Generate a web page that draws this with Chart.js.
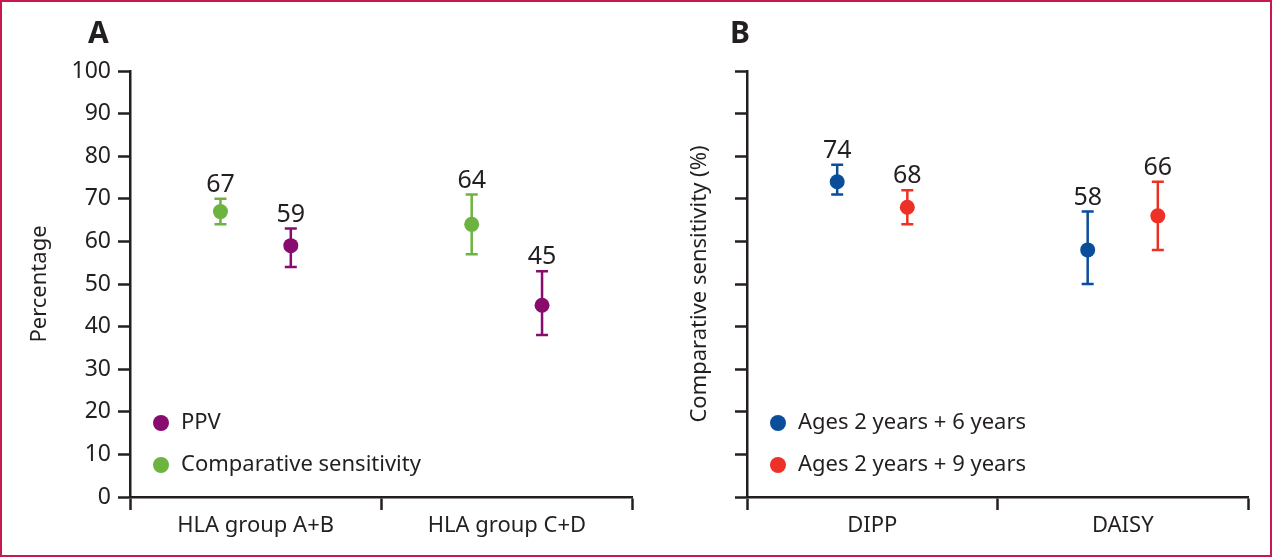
<!DOCTYPE html>
<html>
<head>
<meta charset="utf-8">
<script src="https://cdn.jsdelivr.net/npm/chart.js@4.4.1/dist/chart.umd.min.js"></script>
<style>
  body { margin: 0; background: #fff; }
  #wrap { position: relative; width: 1272px; height: 558px; font-family: "Noto Sans", sans-serif; color: #231f20; }
  #wrap canvas { position: absolute; top: 0; }
  #chartA { left: 0; }
  #chartB { left: 640px; }
  .panel { position: absolute; top: 17px; font-weight: bold; font-size: 30px; line-height: 30px; }
  #frame { position: absolute; left: 0; top: 0; width: 1272px; height: 557px; box-sizing: border-box; border: 2px solid #c8194f; pointer-events: none; }
</style>
</head>
<body>
<div id="wrap">
  <canvas id="chartA" width="640" height="558"></canvas>
  <canvas id="chartB" width="632" height="558"></canvas>
  <div class="panel" style="left:88px">A</div>
  <div class="panel" style="left:730px">B</div>
  <div id="frame"></div>
</div>
<script>
const INK = '#231f20';
const FONT = '"Noto Sans", sans-serif';

// panel A: HLA groups
const groupsA = ['HLA group A+B', 'HLA group C+D'];
const ppv = [59, 45];
const ppvLow = [54, 38];
const ppvHigh = [63, 53];
const sensA = [67, 64];
const sensALow = [64, 57];
const sensAHigh = [70, 71];

// panel B: cohorts
const cohortsB = ['DIPP', 'DAISY'];
const age6 = [74, 58];
const age6Low = [71, 50];
const age6High = [78, 67];
const age9 = [68, 66];
const age9Low = [64, 58];
const age9High = [72, 74];

const yMax = 100;
const yStep = 10;
// category boundaries and centres on the linear x axis
const xTickValues = [-0.5, 0, 0.5, 1, 1.5];
const shift = 0.14; // side-by-side offset of the two series inside a category

// error bars + value labels, drawn from the dataset arrays through the scales
const errorBars = {
  id: 'errorBars',
  beforeDatasetsDraw(chart) {
    const ctx = chart.ctx;
    const y = chart.scales.y;
    chart.data.datasets.forEach((ds, di) => {
      chart.getDatasetMeta(di).data.forEach((pt, i) => {
        const top = y.getPixelForValue(ds.high[i]);
        const bot = y.getPixelForValue(ds.low[i]);
        ctx.save();
        ctx.strokeStyle = ds.backgroundColor;
        ctx.lineWidth = 2.5;
        ctx.beginPath();
        ctx.moveTo(pt.x, top); ctx.lineTo(pt.x, bot);
        ctx.moveTo(pt.x - 6, top); ctx.lineTo(pt.x + 6, top);
        ctx.moveTo(pt.x - 6, bot); ctx.lineTo(pt.x + 6, bot);
        ctx.stroke();
        ctx.restore();
      });
    });
  },
  afterDatasetsDraw(chart) {
    const ctx = chart.ctx;
    const y = chart.scales.y;
    ctx.save();
    ctx.fillStyle = INK;
    ctx.font = '25px ' + FONT;
    ctx.textAlign = 'center';
    ctx.textBaseline = 'alphabetic';
    chart.data.datasets.forEach((ds, di) => {
      chart.getDatasetMeta(di).data.forEach((pt, i) => {
        ctx.fillText(String(ds.data[i].y), pt.x, y.getPixelForValue(ds.high[i]) - 7);
      });
    });
    ctx.restore();
  }
};

// legend inside the plot, bottom left
const innerLegend = {
  id: 'innerLegend',
  afterDraw(chart) {
    const ctx = chart.ctx;
    const area = chart.chartArea;
    ctx.save();
    ctx.font = '22px ' + FONT;
    ctx.textBaseline = 'middle';
    chart.data.datasets.forEach((ds, i) => {
      const cx = area.left + 31;
      const cy = area.bottom - 74 + i * 42;
      ctx.fillStyle = ds.backgroundColor;
      ctx.beginPath();
      ctx.arc(cx, cy, 8, 0, Math.PI * 2);
      ctx.fill();
      ctx.fillStyle = INK;
      ctx.fillText(ds.label, cx + 20, cy);
    });
    ctx.restore();
  }
};

function series(label, color, values, low, high, dx) {
  return {
    label: label,
    data: values.map((v, i) => ({ x: i + dx, y: v })),
    low: low,
    high: high,
    backgroundColor: color,
    borderWidth: 0,
    pointRadius: 7.5,
    pointHoverRadius: 7.5
  };
}

function makeChart(id, cats, datasets, yTitle, showYLabels, yWidth, titlePad, padRight) {
  return new Chart(document.getElementById(id), {
    type: 'scatter',
    data: { datasets: datasets },
    plugins: [errorBars, innerLegend],
    options: {
      responsive: false,
      animation: false,
      layout: { padding: { left: 0, top: 71, right: padRight, bottom: 0 } },
      plugins: { legend: { display: false }, tooltip: { enabled: false } },
      scales: {
        x: {
          type: 'linear',
          min: -0.5,
          max: 1.5,
          afterBuildTicks: s => { s.ticks = xTickValues.map(v => ({ value: v })); },
          afterFit: s => { s.height = 61; },
          ticks: {
            autoSkip: false, maxRotation: 0, minRotation: 0,
            color: INK, font: { family: FONT, size: 22 }, padding: 3,
            callback: v => Number.isInteger(v) ? cats[v] : ''
          },
          grid: {
            drawOnChartArea: false, tickLength: 13, tickWidth: 2.5,
            tickColor: c => (c.tick && Number.isInteger(c.tick.value)) ? 'rgba(0,0,0,0)' : INK
          },
          border: { color: INK, width: 2.5 }
        },
        y: {
          min: 0,
          max: yMax,
          afterFit: s => { s.width = yWidth; },
          ticks: {
            stepSize: yStep, color: INK, font: { family: FONT, size: 23 }, padding: 7,
            callback: v => showYLabels ? v : ''
          },
          grid: { drawOnChartArea: false, tickLength: 12, tickWidth: 2.5, tickColor: INK },
          border: { color: INK, width: 2.5 },
          title: {
            display: true, text: yTitle, color: INK,
            font: { family: FONT, size: 22 },
            padding: { top: titlePad, bottom: 0 }
          }
        }
      }
    }
  });
}

makeChart('chartA', groupsA, [
  series('PPV', '#870c6d', ppv, ppvLow, ppvHigh, shift),
  series('Comparative sensitivity', '#6cb33f', sensA, sensALow, sensAHigh, -shift)
], 'Percentage', true, 130, 27, 3);

makeChart('chartB', cohortsB, [
  series('Ages 2 years + 6 years', '#0a4e9b', age6, age6Low, age6High, -shift),
  series('Ages 2 years + 9 years', '#ee3127', age9, age9Low, age9High, shift)
], 'Comparative sensitivity (%)', false, 107, 47, 24);
</script>
</body>
</html>
